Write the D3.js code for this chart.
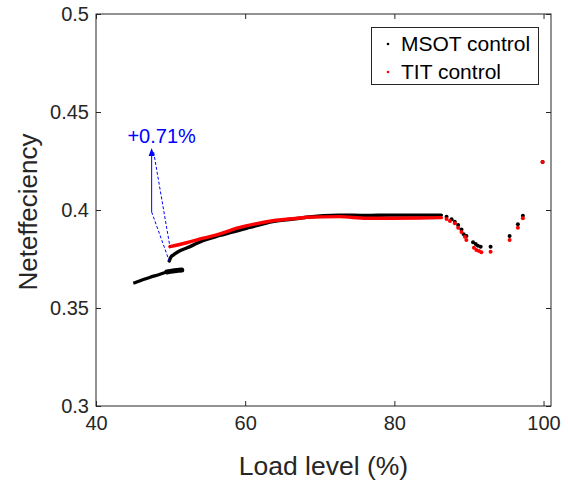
<!DOCTYPE html>
<html>
<head>
<meta charset="utf-8">
<script src="https://cdn.jsdelivr.net/npm/d3@7"></script>
<style>
  html, body { margin: 0; padding: 0; background: #fff; }
  svg { display: block; font-family: "Liberation Sans", Arial, Helvetica, sans-serif; }
</style>
</head>
<body>
<svg id="chart" width="568" height="482"></svg>
<script>
// ---------------- data ----------------
const xTicks = [40, 60, 80, 100];
const yTicks = [0.3, 0.35, 0.4, 0.45, 0.5];
const yTickLabels = ["0.3", "0.35", "0.4", "0.45", "0.5"];
const seriesNames = ["MSOT control", "TIT control"];
const seriesColors = ["#000000", "#ff0000"];

// MSOT control: lower (starting) branch
const msotLowX = [45.0, 46.1, 47.2, 48.4, 49.5];
const msotLowY = [0.3626, 0.3641, 0.3656, 0.3670, 0.3684];
// MSOT control: dense cluster at the end of the lower branch
const msotBlobX = [49.5, 50.3, 51.0, 51.5];
const msotBlobY = [0.3684, 0.3689, 0.3692, 0.3694];
// MSOT control: dense upper curve
const msotUpX = [49.82, 50.04, 50.35, 50.85, 51.25, 52.15, 53.03, 53.93, 54.82, 56.61, 58.39, 59.28, 60.62, 63.70, 67.32, 68.22, 72.68, 76.25, 79.37, 83.39, 86.30];
const msotUpY = [0.3740, 0.3760, 0.3770, 0.3783, 0.3792, 0.3806, 0.3821, 0.3837, 0.3850, 0.3870, 0.3888, 0.3898, 0.3911, 0.3941, 0.3958, 0.3963, 0.3974, 0.3972, 0.3974, 0.3974, 0.3974];
// MSOT control: sparse tail points
const msotTailX = [87.0, 87.67, 88.1, 88.55, 89.0, 89.3, 89.66, 90.55, 90.9, 91.2, 91.57, 92.9, 95.45, 96.56, 97.23, 99.87];
const msotTailY = [0.3966, 0.3953, 0.3940, 0.3923, 0.3901, 0.3876, 0.3867, 0.3835, 0.3827, 0.3818, 0.3813, 0.3813, 0.3867, 0.3927, 0.3971, 0.4245];

// TIT control: dense curve
const titX = [49.91, 52.15, 54.37, 56.61, 59.28, 60.62, 63.70, 67.32, 68.22, 72.68, 76.25, 79.37, 83.40, 86.30];
const titY = [0.3813, 0.3833, 0.3856, 0.3878, 0.3911, 0.3923, 0.3945, 0.3959, 0.3963, 0.3966, 0.3958, 0.3958, 0.3959, 0.3961];
// TIT control: sparse tail points
const titTailX = [87.0, 87.45, 88.1, 88.55, 89.0, 89.45, 89.65, 90.67, 90.99, 91.34, 91.66, 92.9, 95.45, 96.56, 97.23, 99.87];
const titTailY = [0.3954, 0.3944, 0.3932, 0.3910, 0.3888, 0.3864, 0.3847, 0.3808, 0.3796, 0.3791, 0.3784, 0.3787, 0.3847, 0.3910, 0.3958, 0.4245];

// annotation
const annText = "+0.71%";
const annX = 47.46;
const annBaseY = 0.3990;
const annTipY = 0.4316;

// ---------------- drawing ----------------
const svg = d3.select("#chart");
const axisColor = "#262626";
const pLeft = 96, pRight = 551, pTop = 14, pBottom = 406;

const x = d3.scaleLinear().domain([40, 101]).range([pLeft, pRight]);
const y = d3.scaleLinear().domain([0.3, 0.5]).range([pBottom, pTop]);

const zip = (xs, ys) => xs.map((v, i) => [v, ys[i]]);
const line = d3.line().x(d => x(d[0])).y(d => y(d[1])).curve(d3.curveMonotoneX);

// axes (MATLAB box style, ticks inward)
const tickLen = 5;
const gx = svg.append("g").attr("transform", `translate(0,${pBottom})`)
  .call(d3.axisBottom(x).tickValues(xTicks).tickSize(-tickLen).tickPadding(10).tickFormat(d3.format("d")));
const gxTop = svg.append("g").attr("transform", `translate(0,${pTop})`)
  .call(d3.axisTop(x).tickValues(xTicks).tickSize(-tickLen).tickFormat(""));
const gy = svg.append("g").attr("transform", `translate(${pLeft},0)`)
  .call(d3.axisLeft(y).tickValues(yTicks).tickSize(-tickLen).tickPadding(7).tickFormat((d, i) => yTickLabels[i]));
const gyR = svg.append("g").attr("transform", `translate(${pRight},0)`)
  .call(d3.axisRight(y).tickValues(yTicks).tickSize(-tickLen).tickFormat(""));

[gx, gxTop, gy, gyR].forEach(g => {
  g.select(".domain").remove();
  g.selectAll(".tick line").attr("stroke", axisColor).attr("stroke-width", 1);
  g.selectAll(".tick text").attr("fill", axisColor).style("font-size", "20px")
    .style("font-family", "'Liberation Sans', Arial, sans-serif");
});
svg.append("rect").attr("x", pLeft).attr("y", pTop).attr("width", pRight - pLeft).attr("height", pBottom - pTop)
  .attr("fill", "none").attr("stroke", axisColor).attr("stroke-width", 1);

// MSOT control (black)
svg.append("path").datum(zip(msotLowX, msotLowY)).attr("d", line)
  .attr("fill", "none").attr("stroke", seriesColors[0]).attr("stroke-width", 3.2);
svg.append("path").datum(zip(msotBlobX, msotBlobY)).attr("d", line)
  .attr("fill", "none").attr("stroke", seriesColors[0]).attr("stroke-width", 5).attr("stroke-linecap", "round");
svg.append("path").datum(zip(msotUpX, msotUpY)).attr("d", line)
  .attr("fill", "none").attr("stroke", seriesColors[0]).attr("stroke-width", 3.4).attr("stroke-linecap", "round");
svg.append("g").selectAll("circle").data(zip(msotTailX, msotTailY)).join("circle")
  .attr("cx", d => x(d[0])).attr("cy", d => y(d[1])).attr("r", 2).attr("fill", seriesColors[0]);

// TIT control (red)
svg.append("path").datum(zip(titX, titY)).attr("d", line)
  .attr("fill", "none").attr("stroke", seriesColors[1]).attr("stroke-width", 3.4).attr("stroke-linecap", "round");
svg.append("g").selectAll("circle").data(zip(titTailX, titTailY)).join("circle")
  .attr("cx", d => x(d[0])).attr("cy", d => y(d[1])).attr("r", 2).attr("fill", seriesColors[1]);

// annotation
const blue = "#0000ff";
svg.append("line")
  .attr("x1", x(annX)).attr("y1", y(annBaseY)).attr("x2", x(annX)).attr("y2", y(annTipY) + 6)
  .attr("stroke", blue).attr("stroke-width", 1);
svg.append("path")
  .attr("d", `M${x(annX)},${y(annTipY)} L${x(annX) - 3},${y(annTipY) + 8} L${x(annX) + 3},${y(annTipY) + 8} Z`)
  .attr("fill", blue);
svg.append("line")
  .attr("x1", x(annX)).attr("y1", y(annBaseY)).attr("x2", x(msotUpX[0])).attr("y2", y(msotUpY[0]))
  .attr("stroke", blue).attr("stroke-width", 1).attr("stroke-dasharray", "3,2");
svg.append("line")
  .attr("x1", x(annX) + 2).attr("y1", y(annTipY) + 4).attr("x2", x(titX[0])).attr("y2", y(titY[0]))
  .attr("stroke", blue).attr("stroke-width", 1).attr("stroke-dasharray", "3,2");
svg.append("text").attr("x", x(annX) + 10).attr("y", 143).attr("text-anchor", "middle")
  .attr("fill", blue).style("font-size", "20px").text(annText);

// axis titles
svg.append("text").attr("x", (pLeft + pRight) / 2).attr("y", 475).attr("text-anchor", "middle")
  .attr("fill", axisColor).style("font-size", "26.5px").text("Load level (%)");
svg.append("text").attr("transform", `translate(37,${(pTop + pBottom) / 2 + 2}) rotate(-90)`).attr("text-anchor", "middle")
  .attr("fill", axisColor).style("font-size", "26px").text("Neteffeciency");

// legend
const lg = svg.append("g");
lg.append("rect").attr("x", 371.5).attr("y", 27.5).attr("width", 167).attr("height", 57)
  .attr("fill", "#fff").attr("stroke", axisColor).attr("stroke-width", 1);
seriesNames.forEach((name, i) => {
  const cy = 44 + i * 28;
  lg.append("circle").attr("cx", 388).attr("cy", cy).attr("r", 1.3).attr("fill", seriesColors[i]);
  lg.append("text").attr("x", 401).attr("y", cy + 7).attr("fill", "#000").style("font-size", "21px").text(name);
});
</script>
</body>
</html>
